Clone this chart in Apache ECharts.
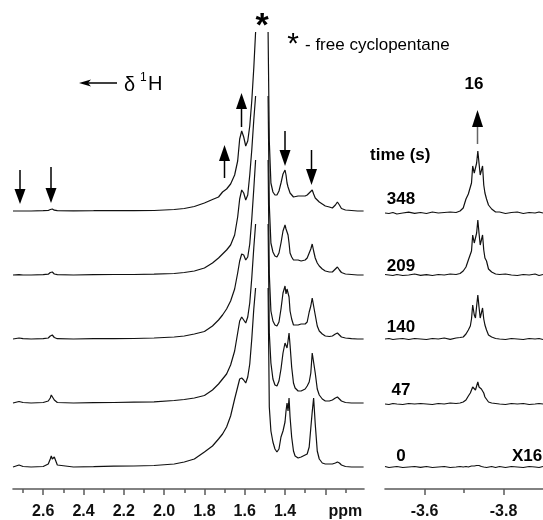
<!DOCTYPE html>
<html>
<head>
<meta charset="utf-8">
<script src="https://cdn.jsdelivr.net/npm/echarts@6/dist/echarts.min.js"></script>
<style>
html, body { margin: 0; padding: 0; background: #fff; }
#nmrStack { width: 543px; height: 520px; }
</style>
</head>
<body>
<div id="nmrStack"></div>
<script>
// ---- data (intensity above each trace's own baseline) ----
const times = ['348', '209', '140', '47', '0'];

// 1H region, ppm (shared grid for the five traces, '-' = clipped top of the cyclopentane peak)
const leftPpm = [2.75, 2.72, 2.70, 2.66, 2.60, 2.575, 2.565, 2.56, 2.555, 2.545, 2.53,
  2.45, 2.35, 2.25, 2.15, 2.05, 1.95, 1.90, 1.85, 1.80,
  1.76, 1.73, 1.71, 1.69, 1.67, 1.65, 1.635, 1.625, 1.615, 1.605, 1.595, 1.585, 1.575, 1.565, 1.555, 1.546,
  1.515,
  1.484, 1.478, 1.47, 1.46, 1.45, 1.44, 1.43, 1.42, 1.41, 1.40, 1.395, 1.39, 1.385, 1.38, 1.375, 1.367, 1.358, 1.35, 1.335, 1.32,
  1.30, 1.29, 1.28, 1.272, 1.265, 1.258, 1.25, 1.24, 1.23, 1.215, 1.20, 1.18, 1.165, 1.15, 1.14, 1.13, 1.12, 1.10, 1.07, 1.04, 1.01];

const left348 = [0, 0, 0, 0, 0.3, 0.5, 1.5, 2.5, 2, 0.8, 0.3,
  0.2, 0.3, 0.5, 0.3, 0.5, 1.5, 2.5, 4.5, 8,
  11.5, 14, 19, 22, 27, 36, 50, 72, 80, 74, 65, 70, 85, 110, 143, 179,
  '-',
  179, 70, 28, 19, 16, 16, 20, 28, 37, 41, 36, 28, 24, 21, 18, 16, 14, 14, 15, 15,
  15, 16, 18, 19, 21, 17, 13, 11, 9, 7, 5, 4, 3, 6, 9, 6, 2.5, 1, 0.5, 0, 0];
const left209 = [0, 0.3, 0, 0, 0.3, 0.8, 2.5, 4, 3, 1, 0.3,
  0, 0.3, 0.5, 0.5, 0.8, 1.5, 2.5, 4, 7,
  12, 17, 21, 25, 30, 40, 58, 76, 85, 82, 75, 80, 100, 125, 155, 179,
  '-',
  179, 70, 32, 23, 19, 18, 22, 32, 44, 50, 46, 48, 40, 32, 22, 18, 15, 15, 15, 14,
  15, 17, 22, 26, 31, 24, 17, 12, 9, 6, 4, 3, 3, 6, 8, 5, 2.5, 1, 0.5, 0, 0];
const left140 = [0, 1, 0.3, 0, 0.3, 1, 3, 5, 4, 1.5, 0.3,
  0, 0.3, 0.3, 0.5, 1, 2, 3, 5, 7.5,
  13, 19, 24, 30, 38, 50, 66, 78, 85, 84, 79, 82, 95, 120, 150, 179,
  '-',
  179, 65, 28, 18, 14, 13, 17, 30, 46, 53, 45, 50, 50, 42, 28, 20, 14, 14, 14, 15,
  15, 17, 27, 33, 41, 33, 24, 13, 8, 5, 3, 2.5, 3, 5, 6, 4, 2, 1, 0.3, 0, 0];
const left47 = [0, 1.5, 0.5, 0, 0.5, 2, 5, 8, 7, 3, 0.5,
  0, 0.3, 0.5, 0.8, 1.2, 2.5, 3.5, 5, 7.5,
  13, 19, 24, 29, 38, 52, 70, 82, 86, 83, 80, 86, 100, 125, 155, 179,
  '-',
  179, 70, 40, 24, 18, 17, 22, 34, 50, 60, 61, 55, 62, 70, 58, 36, 20, 15, 12, 12,
  14, 17, 21, 30, 50, 50, 30, 14, 8, 4, 2, 2, 3, 5, 6, 4, 2, 0.5, 0, 0, 0];
const left0 = [0, 2, 0.5, 0, 0.5, 3, 8, 11, 8, 10, 2,
  0, 0.3, 0.8, 1, 1.5, 3, 5, 8, 15,
  21, 28, 33, 40, 51, 68, 80, 88, 89, 87, 84, 90, 103, 128, 158, 179,
  '-',
  179, 60, 36, 25, 18, 15, 18, 30, 36, 45, 56, 64, 56, 69, 50, 30, 16, 11, 9, 10,
  12, 13, 20, 39, 55, 69, 43, 16, 8, 4, 3, 3, 3, 4, 5, 4, 2, 0.5, 0, 0, 0];

// hydride region, ppm
const rightPpm = [-3.50, -3.51, -3.52, -3.53, -3.545, -3.56, -3.575, -3.59, -3.605, -3.62, -3.635, -3.65, -3.665, -3.68, -3.69,
  -3.698, -3.705, -3.711, -3.716, -3.719, -3.722, -3.726, -3.729, -3.732, -3.735, -3.738, -3.741, -3.744, -3.747, -3.75, -3.753, -3.757, -3.762, -3.77, -3.78,
  -3.79, -3.805, -3.82, -3.835, -3.85, -3.865, -3.88, -3.89, -3.90];

const right348 = [0, -0.5, 0.5, -1, 0, 0.8, -0.3, 0.5, -0.5, 1, 0, 0.5, 1, 0.5, 2,
  5, 14, 19, 21, 30, 47, 40, 38, 50, 62, 50, 38, 40, 47, 28, 20, 14, 8, 4, 1,
  1, -0.5, 0.5, 1, -0.5, 0.5, 0, 1, 0];
const right209 = [0.5, 0, -0.5, 0.5, -0.5, 0, 1, -0.3, 0.3, -0.5, 0.5, 0, 1, 0.5, 1.5,
  4, 8, 15, 17, 24, 40, 32, 30, 42, 55, 42, 30, 32, 40, 25, 17, 14, 6, 3, 1,
  0.5, 1, 0, -0.5, 0.5, 0, 1, -0.5, 0.5];
const right140 = [0, 0.5, -0.5, 0, 0.5, -0.5, 0.5, 0, -0.5, 0.5, 0, 1, -0.3, 1, 1.5,
  2, 5, 9, 13, 20, 34, 24, 21, 33, 44, 32, 21, 23, 31, 20, 14, 9, 4, 2, 0.5,
  0, -0.5, 0.5, 0, -0.5, 0.5, 0, 0.5, -0.5];
const right47 = [0, -0.5, 0.5, 0, -0.5, 0.5, 0, 0.5, 0, -0.5, 0.5, 0, 1, 0.5, 1,
  2, 4, 8, 11, 13, 17, 15, 14, 18, 22, 17, 15, 15, 16, 11, 7, 5, 2, 1, 0.5,
  0, -0.5, 0.5, 0, 0.5, -0.5, 0, 0.5, 0];
const right0 = [0.5, -0.5, 0, 0.5, -0.5, 0, 0.5, -0.3, 0.5, -0.5, 0, 0.5, -0.5, 0, 0.5,
  0, 0.5, 0, 0.5, 1, 0.5, 1, 1.5, 1.5, 2, 1.5, 1, 0.5, 0.5, 0, 0.5, -0.5, 0, 0.5, -0.5,
  0.5, -0.5, 0.5, 0, -0.5, 0.5, 0, -0.5, 0.5];

const leftMajor = [2.6, 2.4, 2.2, 2.0, 1.8, 1.6, 1.4, 1.2];
const leftMinor = [2.7, 2.5, 2.3, 2.1, 1.9, 1.7, 1.5, 1.3, 1.1];
const leftLabels = [2.6, 2.4, 2.2, 2.0, 1.8, 1.6, 1.4, 1.1];
const rightMajor = [-3.6, -3.8];
const rightMinor = [-3.7];

// ---- layout ----
const leftTraces = [left348, left209, left140, left47, left0];
const rightTraces = [right348, right209, right140, right47, right0];
const leftOffset = [278, 214, 150, 86, 22];
const rightOffset = [276, 214, 150, 85, 22];
const labelY = [199, 266, 327, 390, 456];

const FONT = '"Liberation Sans", Arial, sans-serif';
const axisGray = '#5a5a5a';

let chart = echarts.init(document.getElementById('nmrStack'));

function toPairs(xs, ys, off) {
    return xs.map(function (x, i) {
        return ys[i] === '-' ? [x, '-'] : [x, ys[i] + off];
    });
}

function xAxisPair(grid, min, max, major, minor, labels, fmt) {
    return [{
        type: 'value', gridIndex: grid, position: 'bottom', min: min, max: max, inverse: true,
        axisLine: {show: true, onZero: false, lineStyle: {color: axisGray, width: 1.6}},
        axisTick: {show: true, customValues: major, length: 6, lineStyle: {color: axisGray, width: 1.5}},
        axisLabel: {customValues: labels, formatter: fmt, margin: 15,
            fontFamily: FONT, fontWeight: 'bold', fontSize: 16, color: '#111'},
        splitLine: {show: false}
    }, {
        type: 'value', gridIndex: grid, position: 'bottom', min: min, max: max, inverse: true,
        axisLine: {show: false, onZero: false},
        axisTick: {show: true, customValues: minor, length: 4, lineStyle: {color: axisGray, width: 1.5}},
        axisLabel: {show: false},
        splitLine: {show: false}
    }];
}

function arrow(cx, tipY, headY, tailY, shaftColor) {
    return {
        type: 'group',
        children: [
            {type: 'line', shape: {x1: cx, y1: headY, x2: cx, y2: tailY},
                style: {stroke: shaftColor || '#000', lineWidth: 1.5}},
            {type: 'polygon', shape: {points: [[cx, tipY], [cx - 5.5, headY], [cx + 5.5, headY]]},
                style: {fill: '#000'}}
        ]
    };
}

function label(text, x, y, size, weight, align) {
    return {
        type: 'text', x: x, y: y,
        style: {text: text, fill: '#000', font: (weight || 'normal') + ' ' + size + 'px ' + FONT,
            align: align || 'center', verticalAlign: 'middle'}
    };
}

let series = [];
leftTraces.forEach(function (tr, i) {
    series.push({
        name: times[i] + ' s', type: 'line', xAxisIndex: 0, yAxisIndex: 0,
        data: toPairs(leftPpm, tr, leftOffset[i]),
        symbol: 'none', connectNulls: false,
        lineStyle: {color: '#111', width: 1.2}
    });
});
rightTraces.forEach(function (tr, i) {
    series.push({
        name: times[i] + ' s hydride', type: 'line', xAxisIndex: 2, yAxisIndex: 1,
        data: toPairs(rightPpm, tr, rightOffset[i]),
        symbol: 'none',
        lineStyle: {color: '#111', width: 1.2}
    });
});

let graphics = [
    label('*', 262, 27, 34, 'bold'),
    label('*', 293, 45, 30, 'normal'),
    label('- free cyclopentane', 305, 45, 17, 'normal', 'left'),
    {type: 'line', shape: {x1: 86, y1: 83, x2: 117, y2: 83}, style: {stroke: '#000', lineWidth: 1.5}},
    {type: 'polygon', shape: {points: [[79, 83], [91, 79.5], [88, 83], [91, 86.5]]}, style: {fill: '#000'}},
    label('\u03b4', 124, 85, 20, 'normal', 'left'),
    label('1', 140, 77.5, 12, 'normal', 'left'),
    label('H', 148, 84.5, 20, 'normal', 'left'),
    label('16', 474, 84.5, 17, 'bold'),
    label('time (s)', 370, 155, 17, 'bold', 'left'),
    label('X16', 527, 456.5, 17, 'bold'),
    arrow(20, 204, 189, 170),
    arrow(51, 203, 188, 167),
    arrow(285, 166, 150, 131),
    arrow(311.5, 185, 169, 150),
    arrow(241.5, 93, 109, 127),
    arrow(224.5, 145, 161, 178),
    arrow(477.5, 110, 127, 144, '#666')
];
times.forEach(function (t, i) {
    graphics.push(label(t, 401, labelY[i], 17, 'bold'));
});

const option = {
    animation: false,
    backgroundColor: '#fff',
    grid: [
        {left: 13, width: 351, top: 0, height: 489},
        {left: 385, right: 0, top: 0, height: 489}
    ],
    xAxis: xAxisPair(0, 1.008, 2.75, leftMajor, leftMinor, leftLabels, function (v) {
        return v < 1.15 ? 'ppm' : v.toFixed(1);
    }).concat(xAxisPair(1, -3.9, -3.5, rightMajor, rightMinor, rightMajor, function (v) {
        return v.toFixed(1);
    })),
    yAxis: [
        {type: 'value', gridIndex: 0, min: 0, max: 489, show: false},
        {type: 'value', gridIndex: 1, min: 0, max: 489, show: false}
    ],
    series: series,
    graphic: graphics
};

chart.setOption(option);
</script>
</body>
</html>
